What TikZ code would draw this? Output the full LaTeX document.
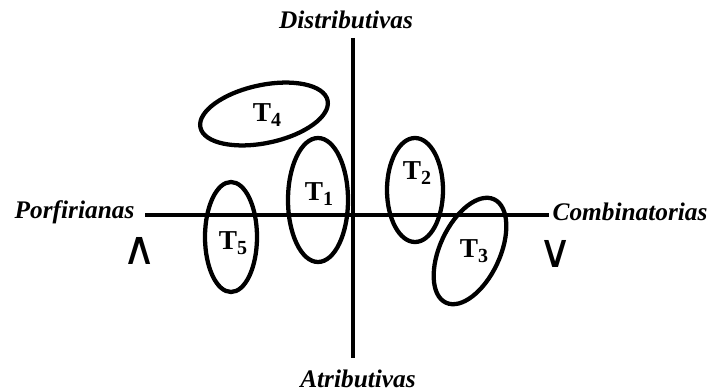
\documentclass[tikz,border=0pt]{standalone}
\usepackage{amsmath}
\usepackage{fontspec}
\setmainfont{Liberation Serif}
\newfontfamily\signfont{DejaVu Sans}
\usepackage{tikz}
\usetikzlibrary{positioning}

\newcommand{\setname}[1]{T\raisebox{-0.4ex}{\fontsize{15}{16}\selectfont #1}}

\tikzset{
  axislabel/.style={font=\fontsize{19}{21}\selectfont\bfseries\itshape, inner sep=1pt},
  setlabel/.style={font=\fontsize{20.5}{22}\selectfont\bfseries, inner sep=0pt},
  opsign/.style={font=\fontsize{35}{37}\selectfont\signfont, inner sep=0pt},
  setring/.style={line width=3.2pt},
}

\begin{document}
\begin{tikzpicture}[x=0.75pt, y=0.75pt]
\useasboundingbox (0,0) rectangle (711,-392);

% Axes
\coordinate (ax_l) at (145,-215);
\coordinate (ax_r) at (549,-215);
\coordinate (ax_t) at (353,-38);
\coordinate (ax_b) at (353,-358);
\draw[line width=3pt] (ax_l) -- (ax_r);
\draw[line width=3pt] (ax_t) -- (ax_b);

% Axis labels
\node[axislabel] (lbl_dist) at (346,-20) {Distributivas};
\node[axislabel] (lbl_atri) at (358,-379) {Atributivas};
\node[axislabel, anchor=east] (lbl_porf) at (136,-212) {Porfirianas};
\node[axislabel, anchor=west] (lbl_comb) at (551,-212) {Combinatorias};
\node[opsign] (op_and) at (140,-251) {∧};
\node[opsign] (op_or) at (556,-254) {∨};

% Sets
\draw[setring, rotate around={12:(264,-114)}] (264,-114) ellipse (65 and 29);
\draw[setring] (318,-200) ellipse (30 and 62);
\draw[setring] (231,-237) ellipse (26 and 55);
\draw[setring] (415,-190) ellipse (28 and 52);
\draw[setring, rotate around={-25:(470,-251)}] (470,-251) ellipse (30 and 57);

\node[setlabel] (t_4) at (267,-115) {\setname{4}};
\node[setlabel] (t_1) at (319,-194) {\setname{1}};
\node[setlabel] (t_5) at (233,-243) {\setname{5}};
\node[setlabel] (t_2) at (417,-173) {\setname{2}};
\node[setlabel] (t_3) at (474,-251) {\setname{3}};
\end{tikzpicture}
\end{document}
